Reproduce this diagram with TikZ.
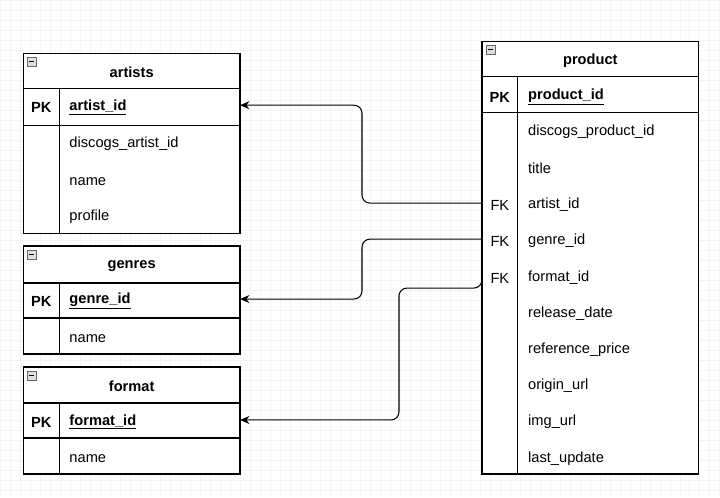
\documentclass[tikz,border=0pt]{standalone}
\usepackage{fontspec}
\setmainfont{Liberation Sans}
\usetikzlibrary{arrows.meta}
\tikzset{
  tbl/.style={draw=black,line width=0.9pt},
  title/.style={font=\bfseries\fontsize{11}{13}\selectfont,yshift=-1.5pt},
  key/.style={font=\bfseries\fontsize{11}{13}\selectfont,yshift=-1.5pt},
  field/.style={anchor=west,font=\fontsize{11}{13}\selectfont,inner sep=0pt,yshift=-1.5pt},
  link/.style={line width=0.8pt,rounded corners=6pt,-{Stealth[length=7pt,width=6pt]}},
  icon/.style={draw=gray!80!black,fill=gray!25,line width=0.5pt}
}
\newcommand{\minusbox}[2]{%
  \draw[icon] (#1+4,#2+4) rectangle (#1+13,#2+13);
  \draw[line width=0.8pt] (#1+6,#2+8.5) -- (#1+11,#2+8.5);}
\begin{document}
\begin{tikzpicture}[x=0.75pt,y=-0.75pt]
%background grid
 \fill[white] (0,0) rectangle (720,497);
 \foreach \g in {0,10,...,720} \draw[gray!9,line width=0.4pt] (\g,0) -- (\g,497);
 \foreach \g in {0,10,...,497} \draw[gray!9,line width=0.4pt] (0,\g) -- (720,\g);
 \useasboundingbox (0,0) rectangle (720,497);
%artists
 \draw[tbl,fill=white] (23,53) rectangle (240,233);
 \draw[tbl] (23,88) -- (240,88) (23,125) -- (240,125) (59,88) -- (59,233);
 \minusbox{23}{53}
 \node[title] (artists) at (131.5,70) {artists};
 \node[key] (artistsPK) at (41,105) {PK};
 \node[field] (artistID) at (69,105) {\bfseries\underline{artist\_id}};
 \node[field] (artistDiscogs) at (69,142) {discogs\_artist\_id};
 \node[field] (artistName) at (69,179) {name};
 \node[field] (artistProfile) at (69,215) {profile};
%genres
 \draw[tbl,fill=white] (23,246) rectangle (240,354);
 \draw[tbl] (23,283) -- (240,283) (23,318) -- (240,318) (59,283) -- (59,354);
 \minusbox{23}{246}
 \node[title] (genres) at (131.5,264) {genres};
 \node[key] (genresPK) at (41,299) {PK};
 \node[field] (genreID) at (69,299) {\bfseries\underline{genre\_id}};
 \node[field] (genreName) at (69,337) {name};
%format
 \draw[tbl,fill=white] (23,367) rectangle (240,474);
 \draw[tbl] (23,403) -- (240,403) (23,438) -- (240,438) (59,403) -- (59,474);
 \minusbox{23}{367}
 \node[title] (format) at (131.5,384) {format};
 \node[key] (formatPK) at (41,420) {PK};
 \node[field] (formatID) at (69,420) {\bfseries\underline{format\_id}};
 \node[field] (formatName) at (69,457) {name};
%product
 \draw[tbl,fill=white] (482,41) rectangle (699,474);
 \draw[tbl] (482,76) -- (699,76) (482,112) -- (699,112) (518,76) -- (518,474);
 \minusbox{482}{41}
 \node[title] (product) at (590.5,58) {product};
 \node[key] (productPK) at (500,95) {PK};
 \node[field] (productID) at (528,95) {\bfseries\underline{product\_id}};
 \node[field] (productDiscogs) at (528,130) {discogs\_product\_id};
 \node[field] (productTitle) at (528,166) {title};
 \node[field] (productArtist) at (528,203) {artist\_id};
 \node[field] (productGenre) at (528,239) {genre\_id};
 \node[field] (productFormat) at (528,276) {format\_id};
 \node[field] (productRelease) at (528,312) {release\_date};
 \node[field] (productPrice) at (528,348) {reference\_price};
 \node[field] (productOrigin) at (528,384) {origin\_url};
 \node[field] (productImg) at (528,420) {img\_url};
 \node[field] (productUpdate) at (528,457) {last\_update};
 \node[font=\fontsize{11}{13}\selectfont,yshift=-1.5pt] (fkArtist) at (500,203) {FK};
 \node[font=\fontsize{11}{13}\selectfont,yshift=-1.5pt] (fkGenre) at (500,239) {FK};
 \node[font=\fontsize{11}{13}\selectfont,yshift=-1.5pt] (fkFormat) at (500,276) {FK};
%connectors
 \coordinate (artistIn) at (240,105);
 \coordinate (genreIn) at (240,299);
 \coordinate (formatIn) at (240,420);
 \coordinate (artistOut) at (482,203);
 \coordinate (genreOut) at (482,239);
 \coordinate (formatOut) at (482,276);
 \draw[link] (artistOut) -- (362,203) -- (362,105) -- (artistIn);
 \draw[link] (genreOut) -- (362,239) -- (362,299) -- (genreIn);
 \draw[link] (formatOut) -- (482,288) -- (399,288) -- (399,420) -- (formatIn);
\end{tikzpicture}
\end{document}
